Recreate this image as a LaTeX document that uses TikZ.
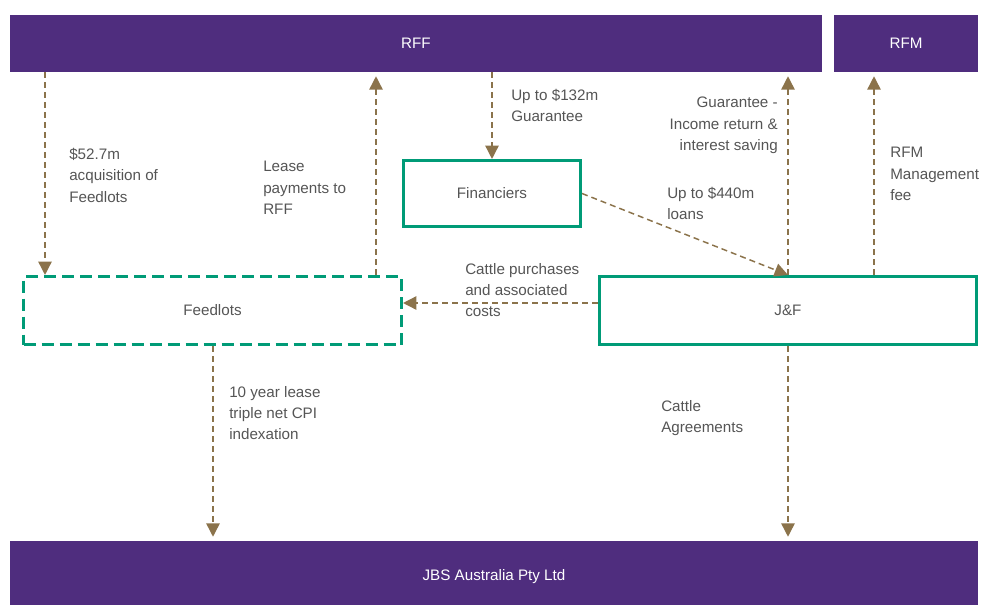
\documentclass[tikz,border=0pt]{standalone}
\usepackage{fontspec}
\setmainfont{Liberation Sans}
\usetikzlibrary{arrows.meta,positioning}
\definecolor{rffpurple}{RGB}{79,45,126}
\definecolor{boxgreen}{RGB}{0,155,119}
\definecolor{flowbrown}{RGB}{139,115,75}
\definecolor{labelgrey}{RGB}{85,85,85}

\begin{document}
\begin{tikzpicture}[x=0.75pt, y=-0.75pt, font=\fontsize{11.4}{16}\selectfont,
  bar/.style={fill=rffpurple, text=white, inner sep=0pt, minimum height=42.75pt},
  entity/.style={draw=boxgreen, line width=2.3pt, text=labelgrey, inner sep=0pt, minimum height=51pt},
  flow/.style={draw=flowbrown, line width=1.1pt, dash pattern=on 4.5pt off 3pt, -{Triangle[width=10pt,length=10pt]}},
  lbl/.style={text=labelgrey, align=left, anchor=north west, inner sep=0pt}]
\path[use as bounding box] (0,0) rectangle (982,604);
% top and bottom bars
\node[bar, minimum width=609pt] (rff) at (416,43.5) {RFF};
\node[bar, minimum width=108pt] (rfm) at (906,43.5) {RFM};
\node[bar, minimum width=726pt, minimum height=54pt] (jbs) at (494,577) {JBS Australia Pty Ltd};
% entities
\node[entity, minimum width=132.75pt, minimum height=49.5pt] (fin) at (492,193.5) {Financiers};
\node[entity, minimum width=283.5pt, dash pattern=on 9pt off 4.5pt] (feed) at (212.5,310.5) {Feedlots};
\node[entity, minimum width=282.75pt] (jf) at (788,310.5) {J\&F};
% helper coordinates for the vertical flows
\coordinate (acq) at (45,0);
\coordinate (lease) at (376,0);
\coordinate (lease10) at (213,0);
\coordinate (mgmt) at (874,0);
\coordinate (cattle) at (0,303);
% flows
\draw[flow] (rff.south -| acq) -- (feed.north -| acq);
\draw[flow, shorten >=3pt] (feed.north -| lease) -- (rff.south -| lease);
\draw[flow] (rff.south -| fin.north) -- (fin.north);
\draw[flow] (fin.east) -- (jf.north);
\draw[flow, shorten >=3pt] (jf.north) -- (rff.south -| jf.north);
\draw[flow, shorten >=3pt] (jf.north -| mgmt) -- (rfm.south -| mgmt);
\draw[flow] (jf.west |- cattle) -- (feed.east |- cattle);
\draw[flow, shorten >=3pt] (feed.south -| lease10) -- (jbs.north -| lease10);
\draw[flow, shorten >=3pt] (jf.south) -- (jbs.north -| jf.south);
% flow labels
\node[lbl] (l-acq) at (69,148) {\$52.7m\\acquisition of\\Feedlots};
\node[lbl] (l-lease) at (263,161) {Lease\\payments to\\RFF};
\node[lbl] (l-guar) at (511,89) {Up to \$132m\\Guarantee};
\node[lbl] (l-loans) at (667,187) {Up to \$440m\\loans};
\node[lbl, anchor=north east, align=right] (l-ret) at (778,97) {Guarantee -\\Income return \&\\interest saving};
\node[lbl] (l-fee) at (890,147) {RFM\\Management\\fee};
\node[lbl] (l-cattle) at (465,263) {Cattle purchases\\and associated\\costs};
\node[lbl] (l-10yr) at (229,386) {10 year lease\\triple net CPI\\indexation};
\node[lbl] (l-agree) at (661,400) {Cattle\\Agreements};
\end{tikzpicture}
\end{document}
